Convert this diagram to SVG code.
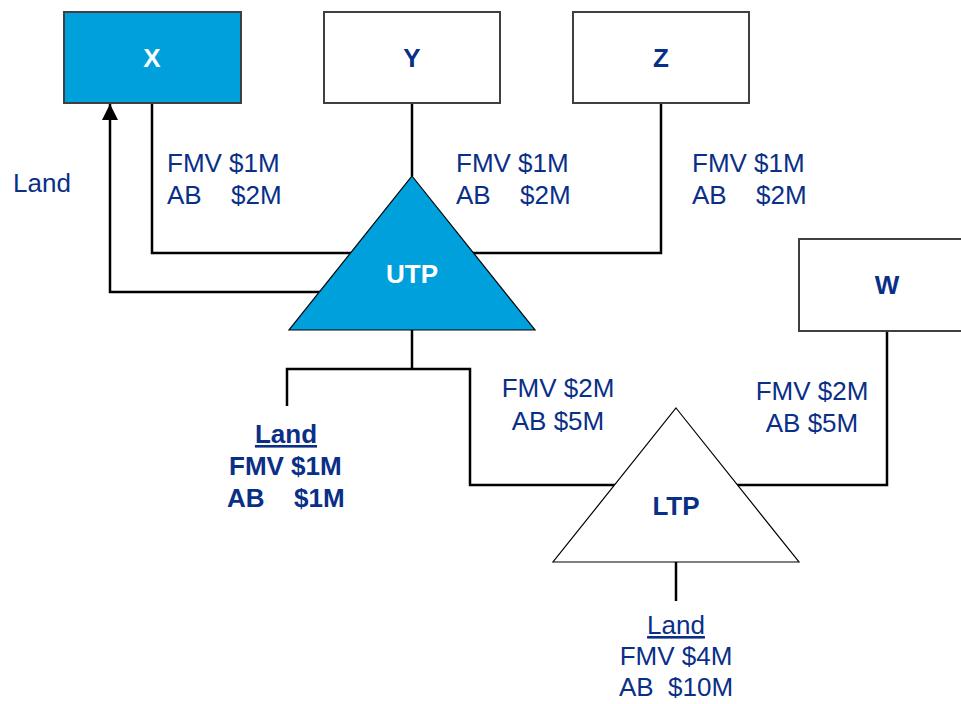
<svg xmlns="http://www.w3.org/2000/svg" width="961" height="704" viewBox="0 0 961 704">
<defs>
<style>
.box{stroke:#404040;stroke-width:2}
.wire{fill:none;stroke:#000;stroke-width:2.5}
.tri{stroke:#000;stroke-width:1.2}
.t{font-family:"Liberation Sans",Arial,sans-serif;font-size:26px;fill:#0A2F87}
.b{font-weight:bold}
.w{fill:#fff}
.c{text-anchor:middle}
</style>
<marker id="ah" viewBox="0 0 16 16" refX="16" refY="8" markerWidth="16" markerHeight="16" markerUnits="userSpaceOnUse" orient="auto">
<path d="M0,0 L16,8 L0,16 Z" fill="#000"/>
</marker>
</defs>
<rect width="961" height="704" fill="#fff"/>
<g id="connectors">
<path class="wire" d="M152,103 V253 H661 V103"/>
<path class="wire" d="M412,103 V176"/>
<path class="wire" d="M412,292 H110 V104" marker-end="url(#ah)"/>
<path class="wire" d="M412,330 V369"/>
<path class="wire" d="M287,406 V369 H470 V485 H887 V331"/>
<path class="wire" d="M676,562 V601"/>
</g>
<g id="X">
<rect class="box" x="64" y="12" width="177" height="91" fill="#00A0DC"/>
<text class="t b w c" x="152" y="67">X</text>
</g>
<g id="Y">
<rect class="box" x="324" y="12" width="176" height="91" fill="#fff"/>
<text class="t b c" x="412" y="67">Y</text>
</g>
<g id="Z">
<rect class="box" x="573" y="12" width="176" height="91" fill="#fff"/>
<text class="t b c" x="661" y="67">Z</text>
</g>
<g id="W">
<rect class="box" x="799" y="239" width="180" height="92" fill="#fff"/>
<text class="t b c" x="887" y="294">W</text>
</g>
<g id="UTP">
<polygon class="tri" points="412,176 535,330 289,330" fill="#00A0DC"/>
<text class="t b w c" x="412" y="283">UTP</text>
</g>
<g id="LTP">
<polygon class="tri" points="676,408 799,562 553,562" fill="#fff"/>
<text class="t b c" x="676" y="515">LTP</text>
</g>
<g id="labels">
<text class="t" x="13" y="192">Land</text>
<text class="t" x="167" y="172">FMV $1M</text>
<text class="t" x="167" y="204">AB</text><text class="t" x="231" y="204">$2M</text>
<text class="t" x="456" y="172">FMV $1M</text>
<text class="t" x="456" y="204">AB</text><text class="t" x="520" y="204">$2M</text>
<text class="t" x="692" y="172">FMV $1M</text>
<text class="t" x="692" y="204">AB</text><text class="t" x="756" y="204">$2M</text>
<text class="t c" x="558" y="397">FMV $2M</text>
<text class="t c" x="558" y="430">AB $5M</text>
<text class="t c" x="812" y="400">FMV $2M</text>
<text class="t c" x="812" y="432">AB $5M</text>
<text class="t b c" x="286" y="443" text-decoration="underline">Land</text>
<text class="t b" x="229" y="475">FMV $1M</text>
<text class="t b" x="227" y="507">AB</text><text class="t b" x="294" y="507">$1M</text>
<text class="t c" x="676" y="634" text-decoration="underline">Land</text>
<text class="t c" x="676" y="665">FMV $4M</text>
<text class="t" x="619" y="696">AB</text><text class="t" x="668" y="696">$10M</text>
</g>
</svg>
